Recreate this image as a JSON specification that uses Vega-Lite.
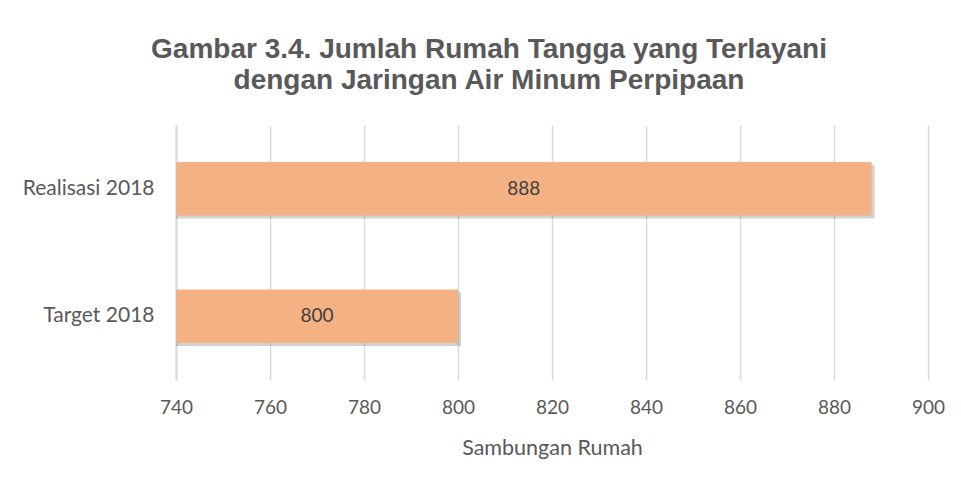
{
  "$schema": "https://vega.github.io/schema/vega-lite/v6.json",
  "autosize": "none",
  "width": 752,
  "height": 255,
  "padding": {"left": 176, "top": 125, "right": 33, "bottom": 105},
  "background": "white",
  "title": {
    "text": ["Gambar 3.4. Jumlah Rumah Tangga yang Terlayani", "dengan Jaringan Air Minum Perpipaan"],
    "font": "Liberation Sans",
    "fontSize": 28,
    "fontWeight": "bold",
    "color": "#595959",
    "lineHeight": 31,
    "anchor": "middle",
    "dx": -63,
    "offset": 30
  },
  "data": {
    "values": [
      {"kategori": "Realisasi 2018", "nilai": 888},
      {"kategori": "Target 2018", "nilai": 800}
    ]
  },
  "transform": [{"calculate": "(datum.nilai + 740) / 2", "as": "posisi_label"}],
  "encoding": {
    "y": {
      "field": "kategori",
      "type": "nominal",
      "sort": ["Realisasi 2018", "Target 2018"],
      "scale": {"paddingInner": 0.58, "paddingOuter": 0.29},
      "axis": {
        "title": null,
        "ticks": false,
        "domain": true,
        "domainColor": "#d9d9d9",
        "domainWidth": 2,
        "labelFont": "Lato",
        "labelFontSize": 21,
        "labelColor": "#595959",
        "labelPadding": 22
      }
    }
  },
  "layer": [
    {
      "mark": {"type": "bar", "color": "#7f7f7f", "opacity": 0.35, "xOffset": 3, "yOffset": 3},
      "encoding": {
        "x": {
          "field": "nilai",
          "type": "quantitative",
          "scale": {"domain": [740, 900], "zero": false, "nice": false},
          "axis": {
            "values": [740, 760, 780, 800, 820, 840, 860, 880, 900],
            "title": "Sambungan Rumah",
            "titleFont": "Lato",
            "titleFontSize": 21.5,
            "titleFontWeight": "normal",
            "titleColor": "#595959",
            "titlePadding": 20,
            "domain": false,
            "ticks": false,
            "grid": true,
            "gridColor": "#d9d9d9",
            "gridWidth": 1.5,
            "labelFont": "Lato",
            "labelFontSize": 19,
            "labelColor": "#595959",
            "labelPadding": 18,
            "labelFlush": false
          }
        },
        "x2": {"datum": 740}
      }
    },
    {
      "mark": {"type": "bar", "color": "#F4B183"},
      "encoding": {
        "x": {"field": "nilai", "type": "quantitative"},
        "x2": {"datum": 740}
      }
    },
    {
      "mark": {"type": "text", "font": "Lato", "fontSize": 19, "color": "#404040"},
      "encoding": {
        "x": {"field": "posisi_label", "type": "quantitative"},
        "text": {"field": "nilai", "type": "quantitative"}
      }
    }
  ],
  "config": {"view": {"stroke": null}}
}
